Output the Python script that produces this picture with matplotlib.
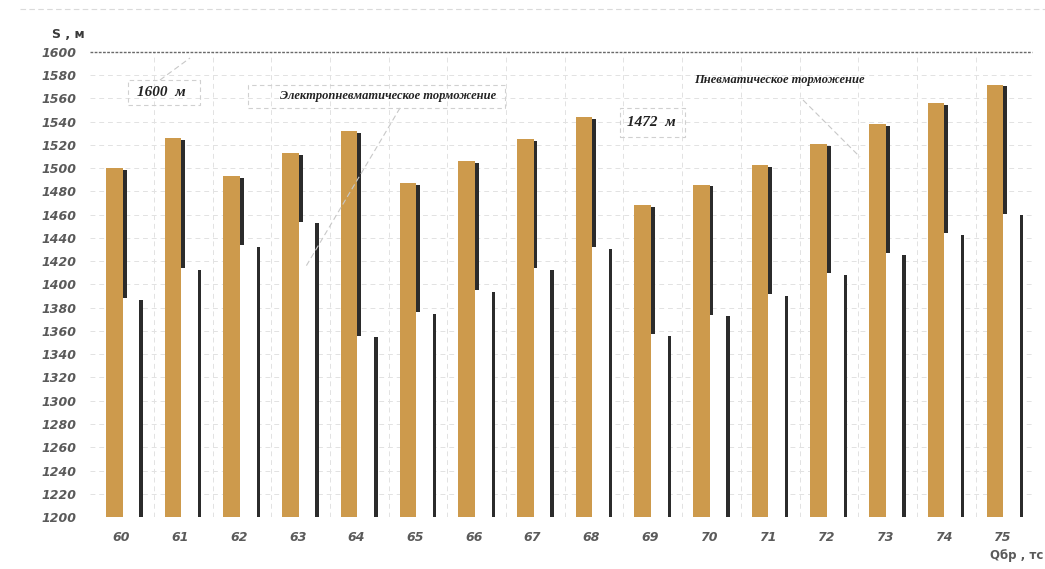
import numpy as np
import matplotlib.pyplot as plt
from matplotlib.patches import Rectangle

# тормозной путь, м
q_br = [60, 61, 62, 63, 64, 65, 66, 67, 68, 69, 70, 71, 72, 73, 74, 75]
s_pneum = [1500, 1526, 1493, 1513, 1532, 1487, 1506, 1525, 1544, 1468, 1486, 1503, 1521, 1538, 1556, 1572]
s_electro = [1388, 1414, 1434, 1454, 1356, 1376, 1395, 1414, 1432, 1357, 1374, 1392, 1410, 1427, 1444, 1461]
y_ticks = list(range(1200, 1601, 20))

gold = '#cd9a4c'
shade = '#2b2b2b'
label_gray = '#5a5a5a'
grid_gray = '#e2e2e2'

fig = plt.figure(figsize=(10.45, 5.69), dpi=100)
ax = fig.add_axes([90/1045, 1-517/569, 942/1045, 465/569])
x = np.arange(len(q_br))

ax.set_xlim(-0.588, 15.46)
ax.set_ylim(1200, 1600)

# сетка
for yt in y_ticks[1:-1]:
    ax.axhline(yt, color=grid_gray, lw=0.7, ls=(0, (5, 4)), zorder=0)
for xb in x[:-1] + 0.5:
    ax.axvline(xb, color=grid_gray, lw=0.7, ls=(0, (5, 4)), zorder=0)
ax.axhline(1600, color='#6a6a6a', lw=1.0, ls=(0, (2, 1)), zorder=1, clip_on=False)

# столбцы с тенью справа
gw, sw = 0.284, 0.065
drop = 1.5
ax.bar(x - 0.031, np.array(s_pneum) - 1200 - drop, width=sw, bottom=1200, align='edge', color=shade, zorder=2)
ax.bar(x - 0.315, np.array(s_pneum) - 1200, width=gw, bottom=1200, align='edge', color=gold, zorder=3)
ax.bar(x - 0.031, np.array(s_electro) - 1200, width=gw, bottom=1200, align='edge', color='white', zorder=4)
ax.bar(x + 0.252, np.array(s_electro) - 1200 - drop, width=0.058, bottom=1200, align='edge', color=shade, zorder=5)

ax.set_yticks(y_ticks)
ax.set_yticklabels([str(v) for v in y_ticks], fontsize=9, fontweight='bold', style='italic', color=label_gray)
ax.set_xticks(x - 0.05)
ax.set_xticklabels([str(v) for v in q_br], fontsize=9, fontweight='bold', style='italic', color=label_gray)
ax.tick_params(axis='y', length=0, pad=10)
ax.tick_params(axis='x', length=0, pad=10)
for sp in ax.spines.values():
    sp.set_visible(False)

fig.text(52/1045, 1-35/569, 'S , м', fontsize=9, fontweight='bold', color='#3a3a3a', va='center')
fig.text(990/1045, 1-556/569, 'Qбр , тс', fontsize=8.5, fontweight='bold', color=label_gray, va='center')

# подписи
serif = dict(family='Liberation Serif', style='italic', fontweight='bold', color='#222222')
box_kw = dict(fill=False, ec='#d0d0d0', lw=0.8, ls=(0, (4, 3)), transform=fig.transFigure, zorder=6)

def px_box(x0, y0, x1, y1):
    fig.patches.append(Rectangle((x0/1045, 1-y1/569), (x1-x0)/1045, (y1-y0)/569, **box_kw))

def px_line(x0, y0, x1, y1, color='#c8c8c8'):
    fig.add_artist(plt.Line2D([x0/1045, x1/1045], [1-y0/569, 1-y1/569], color=color,
                              lw=0.8, ls=(0, (5, 3)), zorder=6))

px_box(128, 80, 200, 105)
fig.text(137/1045, 1-93/569, '1600  м', fontsize=11, va='center', **serif)
px_line(160, 80, 190, 58)

px_box(248, 85, 505, 108)
fig.text(280/1045, 1-96/569, 'Электропневматическое торможение', fontsize=9, va='center', **serif)
px_line(400, 108, 305, 268)

px_box(620, 108, 685, 137)
fig.text(627/1045, 1-122/569, '1472  м', fontsize=11, va='center', **serif)

fig.text(694/1045, 1-80/569, 'Пневматическое торможение', fontsize=9, va='center', **serif)
px_line(803, 100, 860, 157)

# край листа
px_line(20, 9, 1045, 9, color='#dadada')

fig.savefig('out.png', dpi=100, facecolor='white')
